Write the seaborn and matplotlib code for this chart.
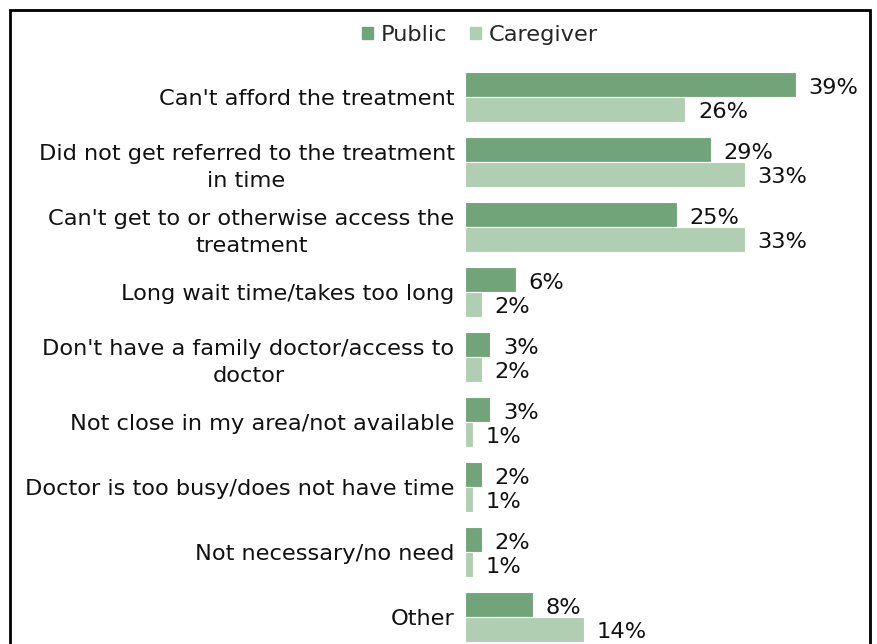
import matplotlib
matplotlib.use("Agg")
import matplotlib.pyplot as plt
from matplotlib.patches import Rectangle
import pandas as pd
import seaborn as sns

# Reasons given for not getting treatment, by respondent group (percent)
categories = [
    "Can't afford the treatment",
    "Did not get referred to the treatment\nin time",
    "Can't get to or otherwise access the\ntreatment",
    "Long wait time/takes too long",
    "Don't have a family doctor/access to\ndoctor",
    "Not close in my area/not available",
    "Doctor is too busy/does not have time",
    "Not necessary/no need",
    "Other",
]
public = [39, 29, 25, 6, 3, 3, 2, 2, 8]
caregiver = [26, 33, 33, 2, 2, 1, 1, 1, 14]
groups = ["Public", "Caregiver"]
colors = ["#72a47a", "#b0cfb2"]

df = pd.DataFrame({
    "reason": categories * 2,
    "group": [groups[0]] * len(categories) + [groups[1]] * len(categories),
    "value": public + caregiver,
})

sns.set_theme(style="white")
plt.rcParams["font.family"] = ["DejaVu Sans"]
FS = 16.2

W, H = 877, 644
fig = plt.figure(figsize=(W / 100, H / 100), dpi=100)
ax = fig.add_axes([465 / W, 0.0, 404 / W, (H - 51.5) / H])

sns.barplot(
    data=df, y="reason", x="value", hue="group", order=categories,
    hue_order=groups, palette=colors, orient="h", width=0.77,
    edgecolor="white", linewidth=0.8, saturation=1, ax=ax, legend=False,
)

ax.set_xlim(0, 404 / 8.48)
ax.set_ylim(8.415, -0.7)
ax.set_xlabel("")
ax.set_ylabel("")
ax.set_xticks([])
for s in ax.spines.values():
    s.set_visible(False)
ax.tick_params(axis="y", length=0, pad=7.5)
for lab in ax.get_yticklabels():
    lab.set_fontsize(FS)
    lab.set_multialignment("center")
    lab.set_color("#111111")
    lab.set_linespacing(1.45)

# value labels, nudged slightly below the bar centres
for cont, vals, dy in zip(ax.containers, [public, caregiver], [-2.5, -1.5]):
    texts = ax.bar_label(cont, labels=[f"{v}%" for v in vals], padding=9,
                         fontsize=FS, color="#111111")
    for t in texts:
        x0, y0 = t.xyann
        t.xyann = (x0, y0 + dy)

handles = [Rectangle((0, 0), 1, 1, color=c) for c in colors]
fig.legend(handles, groups, loc="center", bbox_to_anchor=(480 / W, 1 - 35 / H),
           ncol=2, frameon=False, fontsize=FS, handlelength=0.5,
           handleheight=0.5, handletextpad=0.35, columnspacing=1.0)

# outer frame of the panel
fig.add_artist(Rectangle((10 / W, -0.05), 860 / W, 0.05 + 1 - 10 / H,
                         transform=fig.transFigure, fill=False,
                         edgecolor="black", linewidth=2))

fig.savefig("out.png", dpi=100)
